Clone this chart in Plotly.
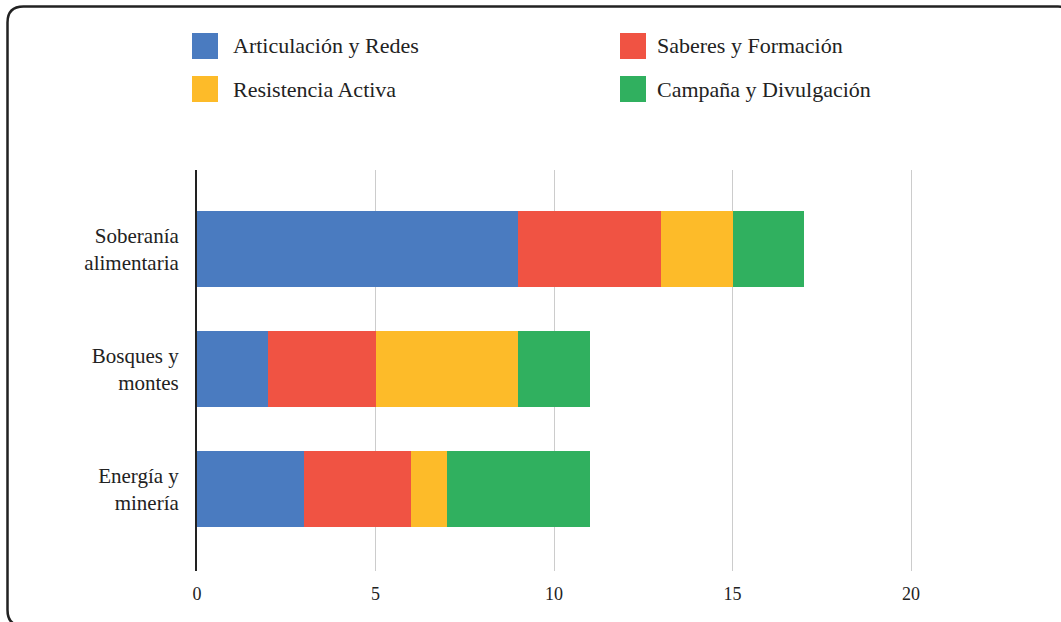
import plotly.graph_objects as go

# ---------------- data ----------------
categories = ["Soberanía<br>alimentaria", "Bosques y<br>montes", "Energía y<br>minería"]
series_names = ["Articulación y Redes", "Saberes y Formación", "Resistencia Activa", "Campaña y Divulgación"]
articulacion = [9, 2, 3]
saberes = [4, 3, 3]
resistencia = [2, 4, 1]
campana = [2, 2, 4]
x_ticks = [0, 5, 10, 15, 20]
x_tick_labels = ["0", "5", "10", "15", "20"]

colors = ["#4A7BC0", "#F05343", "#FDBB29", "#30B05F"]
series_values = [articulacion, saberes, resistencia, campana]

W, H = 1061, 622
L, R, T, B = 197, 43, 170, 51
PW, PH = W - L - R, H - T - B
FONT = "Liberation Serif"
TXT = "#222222"

def px(x):
    return (x - L) / PW

def py(y):
    return (H - B - y) / PH

fig = go.Figure()
for name, vals, col in zip(series_names, series_values, colors):
    fig.add_trace(go.Bar(
        y=categories, x=vals, name=name, orientation="h",
        marker=dict(color=col, line=dict(width=0)),
        showlegend=False, hoverinfo="x+name",
    ))

# custom legend (2 columns x 2 rows)
shapes = []
annotations = []
leg_pos = [(192, 231, 46), (620, 655, 46), (192, 231, 89), (620, 655, 89)]
for (lx, tx, ly), name, col in zip(leg_pos, series_names, colors):
    shapes.append(dict(type="rect", xref="paper", yref="paper",
                       x0=px(lx), x1=px(lx + 26), y0=py(ly - 13), y1=py(ly + 13),
                       fillcolor=col, line=dict(width=0), layer="above"))
    annotations.append(dict(xref="paper", yref="paper", x=px(tx), y=py(ly),
                            xanchor="left", yanchor="middle", showarrow=False,
                            text=name, font=dict(family=FONT, size=22, color=TXT)))

# rounded outer border
x0, x1, y0, y1, r = 7.5, 1074, 6.5, 626, 16
path = (f"M {px(x0)},{py(y0 + r)} Q {px(x0)},{py(y0)} {px(x0 + r)},{py(y0)} "
        f"L {px(x1 - r)},{py(y0)} Q {px(x1)},{py(y0)} {px(x1)},{py(y0 + r)} "
        f"L {px(x1)},{py(y1 - r)} Q {px(x1)},{py(y1)} {px(x1 - r)},{py(y1)} "
        f"L {px(x0 + r)},{py(y1)} Q {px(x0)},{py(y1)} {px(x0)},{py(y1 - r)} Z")
shapes.append(dict(type="path", xref="paper", yref="paper", path=path,
                   line=dict(color="#222222", width=2.5), layer="above"))

fig.update_layout(
    width=W, height=H,
    margin=dict(l=L, r=R, t=T, b=B),
    barmode="stack", bargap=0.367,
    paper_bgcolor="white", plot_bgcolor="white",
    font=dict(family=FONT, color=TXT),
    shapes=shapes, annotations=annotations,
    xaxis=dict(range=[0, PW / 35.7], tickvals=x_ticks, ticktext=x_tick_labels,
               showgrid=True, gridcolor="#CCCCCC", gridwidth=1,
               zeroline=False, showline=False, ticks="",
               tickfont=dict(family=FONT, size=18, color=TXT), ticklabelstandoff=10),
    yaxis=dict(type="category", range=[2.68, -0.66], showgrid=False,
               showline=True, linecolor="#222222", linewidth=2, ticks="",
               tickfont=dict(family=FONT, size=21, color=TXT), ticklabelstandoff=12),
)

fig.write_html("out.html", config={"displayModeBar": False},
               post_script="document.body.style.margin='0';document.body.style.overflow='hidden';")
